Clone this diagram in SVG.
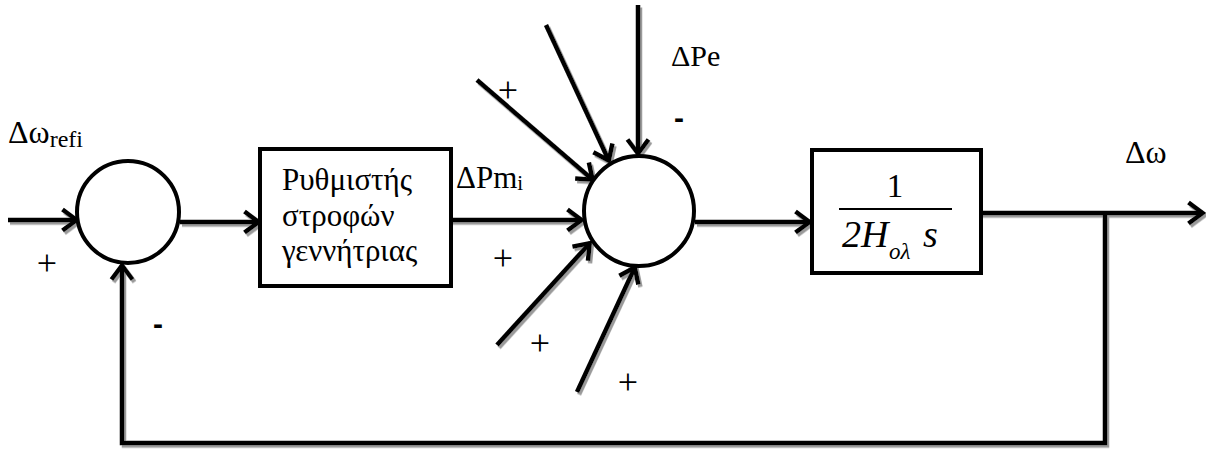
<svg xmlns="http://www.w3.org/2000/svg" width="1206" height="449" viewBox="0 0 1206 449">
  <style>
    .blk { fill: #fff; stroke: #000; stroke-width: 4; }
    .wire { fill: none; stroke: #000; stroke-width: 4.5; }
    .arr { marker-end: url(#head); }
    text { font-family: "Liberation Serif", "DejaVu Serif", serif; fill: #000; }
    .sign { font-size: 36px; text-anchor: middle; }
    .minus { font-family: "Liberation Sans", "DejaVu Sans", sans-serif; font-size: 30px; font-weight: bold; text-anchor: middle; }
  </style>
  <defs>
    <marker id="head" viewBox="0 0 20 26" refX="17.5" refY="13" markerWidth="20" markerHeight="26" markerUnits="userSpaceOnUse" orient="auto">
      <path d="M3,2.5 L17,13 L3,23.5" fill="none" stroke="#000" stroke-width="4.5" stroke-linejoin="miter"/>
    </marker>
    <filter id="shadow" x="-5%" y="-5%" width="110%" height="110%">
      <feDropShadow dx="2" dy="2.5" stdDeviation="0.6" flood-color="#9a9a9a" flood-opacity="1"/>
    </filter>
  </defs>

  <rect width="1206" height="449" fill="#fff"/>

  <!-- signal lines -->
  <g id="connectors" filter="url(#shadow)">
    <path class="wire arr" d="M8,220 L77,220"/>
    <path class="wire arr" d="M180,222 L259,222"/>
    <path class="wire arr" d="M451,220 L582,220"/>
    <path class="wire arr" d="M638,5 L638,154"/>
    <path class="wire arr" d="M546,25 L609,161"/>
    <path class="wire arr" d="M477,80 L593,180"/>
    <path class="wire arr" d="M497,345 L590,243"/>
    <path class="wire arr" d="M577,392 L635,267"/>
    <path class="wire arr" d="M695,222 L810,222"/>
    <path class="wire arr" d="M981,213 L1203,213"/>
    <path class="wire arr" d="M1105,213 L1105,443 L122,443 L122,265"/>
  </g>

  <!-- reference summing junction -->
  <g id="sum1">
    <circle class="blk" cx="128" cy="212" r="51"/>
  </g>

  <!-- speed governor block -->
  <g id="governor">
    <rect class="blk" x="260" y="149" width="191" height="137"/>
    <text font-size="31" x="282" y="190">Ρυθμιστής</text>
    <text font-size="31" x="282" y="226">στροφών</text>
    <text font-size="31" x="282" y="261">γεννήτριας</text>
  </g>

  <!-- power summing junction -->
  <g id="sum2">
    <circle class="blk" cx="639" cy="211" r="55"/>
  </g>

  <!-- inertia block 1/(2H s) -->
  <g id="inertia">
    <rect class="blk" x="812" y="150" width="169" height="123"/>
    <text font-size="33" x="895" y="197" text-anchor="middle">1</text>
    <line x1="839" y1="209" x2="952" y2="209" stroke="#000" stroke-width="2"/>
    <text font-size="38" font-style="italic" x="842" y="247">2H</text>
    <text font-size="23" font-style="italic" x="889" y="259">oλ</text>
    <text font-size="38" font-style="italic" x="923" y="247">s</text>
  </g>

  <!-- signal labels -->
  <g id="labels">
    <text font-size="32" x="8" y="143">Δω<tspan font-size="24" dy="4">refi</tspan></text>
    <text font-size="31" x="456" y="188">ΔPm<tspan font-size="21" dy="2">i</tspan></text>
    <text font-size="30" x="671" y="66">ΔPe</text>
    <text font-size="32" x="1125" y="163">Δω</text>
    <text class="sign" x="47" y="275">+</text>
    <text class="minus" x="158" y="334">-</text>
    <text class="sign" x="508" y="102">+</text>
    <text class="minus" x="679" y="128">-</text>
    <text class="sign" x="503" y="270">+</text>
    <text class="sign" x="540" y="355">+</text>
    <text class="sign" x="628" y="394">+</text>
  </g>
</svg>
